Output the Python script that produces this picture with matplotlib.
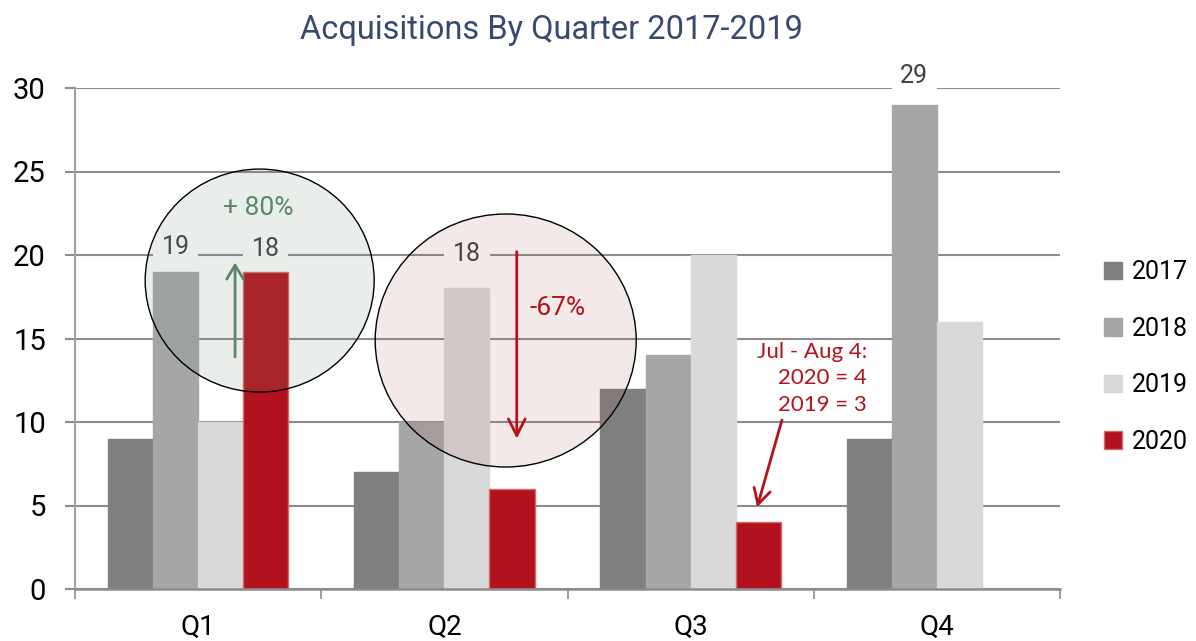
""" Acquisitions by quarter, grouped bars with highlight circles """

import numpy as np
import matplotlib.pyplot as plt
from matplotlib.patches import Ellipse

quarters = ['Q1', 'Q2', 'Q3', 'Q4']
years = ['2017', '2018', '2019', '2020']
vals_2017 = [9, 7, 12, 9]
vals_2018 = [19, 10, 14, 29]
vals_2019 = [10, 18, 20, 16]
vals_2020 = [19, 6, 4, np.nan]          # no Q4 2020 yet

series = [vals_2017, vals_2018, vals_2019, vals_2020]
colors = ['#7f7f7f', '#a6a6a6', '#d9d9d9', '#b2121d']
edges = ['#7f7f7f', '#a6a6a6', '#d9d9d9', '#d46a6a']

plt.rcParams['font.family'] = ['Roboto', 'DejaVu Sans']

fig = plt.figure(figsize=(11.96, 6.41), dpi=100)
ax = fig.add_axes([75/1196, 1 - 589/641, (1060-75)/1196, (589-88)/641])

x = np.arange(len(quarters))
w = 0.183
for i, (vals, c, e) in enumerate(zip(series, colors, edges)):
    ax.bar(x + (i - 1.5)*w, vals, w, color=c, edgecolor=e, linewidth=1,
           label=years[i], zorder=2)

ax.set_xlim(-0.5, 3.5)
ax.set_ylim(0, 30)
ax.set_yticks(range(0, 31, 5))
ax.set_xticks(x)
ax.set_xticklabels(quarters)
ax.set_xticks(np.arange(-0.5, 4, 1), minor=True)
ax.tick_params(axis='x', which='major', length=0, pad=18, labelsize=20)
ax.tick_params(axis='x', which='minor', length=7, width=1.2, color='#8c8c8c')
ax.tick_params(axis='y', length=7, width=1.5, color='#8c8c8c', pad=14, labelsize=21)
ax.grid(axis='y', color='#8c8c8c', linewidth=1.5, zorder=0)
ax.set_axisbelow(True)
for s in ['top', 'right']:
    ax.spines[s].set_visible(False)
ax.spines['left'].set_color('#a0a0a0')
ax.spines['left'].set_linewidth(1.5)
ax.spines['bottom'].set_color('#8c8c8c')
ax.spines['bottom'].set_linewidth(1.8)

# value labels sitting on white boxes that break the gridlines
lab_kw = dict(ha='center', va='center', fontsize=18, color='#404040', zorder=3,
              bbox=dict(boxstyle='square,pad=0.35', fc='white', ec='none'))
ax.text(0 - 0.5*w, 20.45, '19', **lab_kw)
ax.text(0 + 1.5*w, 20.35, '18', **lab_kw)
ax.text(1 + 0.5*w, 20.05, '18', **lab_kw)
ax.text(3 - 0.5*w, 30.7, '29', clip_on=False, **lab_kw)

# highlight circles
ax.add_patch(Ellipse((0.25, 18.47), 0.93, 13.35, fc=(114/255, 142/255, 115/255, 0.15),
                     ec='black', lw=1, zorder=4))
ax.add_patch(Ellipse((1.249, 14.88), 1.06, 15.15, fc=(175/255, 87/255, 87/255, 0.125),
                     ec='black', lw=1, zorder=4))

green = '#5b8667'
red = '#b5121b'
ax.annotate('', xy=(0.150, 19.55), xytext=(0.150, 13.9),
            arrowprops=dict(arrowstyle='->,head_length=1.0,head_width=0.6', color=green,
                            lw=2, mutation_scale=10, shrinkA=0, shrinkB=0), zorder=5)
ax.text(0.244, 22.8, '+ 80%', ha='center', va='center', fontsize=19, color=green, zorder=5)

ax.annotate('', xy=(1.294, 9.0), xytext=(1.294, 20.2),
            arrowprops=dict(arrowstyle='->,head_length=1.2,head_width=0.6', color=red,
                            lw=2, mutation_scale=10, shrinkA=0, shrinkB=0), zorder=5)
ax.text(1.458, 16.8, '-67%', ha='center', va='center', fontsize=19, color=red, zorder=5)

ax.text(2.717, 14.8, 'Jul - Aug 4:\n2020 = 4\n2019 = 3', ha='right', va='top',
        multialignment='right', fontsize=16, color=red, family=['Lato', 'DejaVu Sans'],
        linespacing=1.4, zorder=5)
ax.annotate('', xy=(2.270, 4.9), xytext=(2.371, 10.12),
            arrowprops=dict(arrowstyle='->,head_length=1.1,head_width=0.6', color=red,
                            lw=2, mutation_scale=10, shrinkA=0, shrinkB=0), zorder=5)

fig.text(551/1196, 1 - 30/641, 'Acquisitions By Quarter 2017-2019', ha='center',
         va='center', fontsize=23.5, color='#354a6e')

fig.legend(loc='center left', bbox_to_anchor=(1104/1196, 1 - 357/641), frameon=False,
           fontsize=18, handlelength=0.7, handleheight=0.7, handletextpad=0.4,
           labelspacing=1.3, borderpad=0, borderaxespad=0)

fig.savefig('out.png', dpi=100)
